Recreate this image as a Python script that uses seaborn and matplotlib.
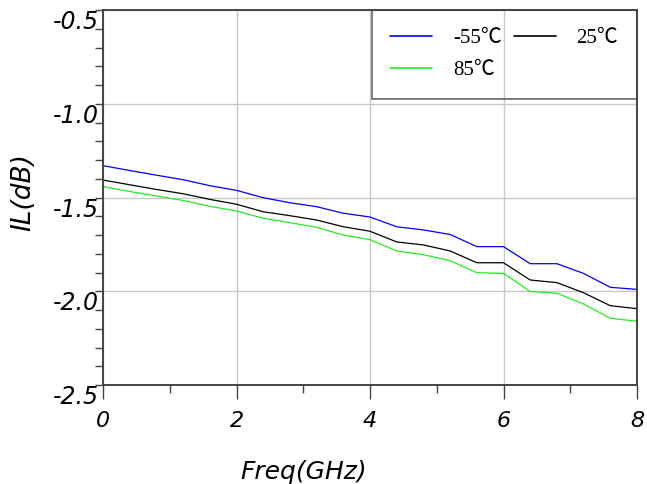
import numpy as np
import pandas as pd
import matplotlib
matplotlib.use('Agg')
import matplotlib.pyplot as plt
from matplotlib.ticker import MultipleLocator
import seaborn as sns

# frecuencia (GHz), paso 0.4
freq = [0.0, 0.4, 0.8, 1.2, 1.6, 2.0, 2.4, 2.8, 3.2, 3.6, 4.0,
        4.4, 4.8, 5.2, 5.6, 6.0, 6.4, 6.8, 7.2, 7.6, 8.0]

il_m55 = [-1.330, -1.356, -1.381, -1.405, -1.437, -1.462, -1.501, -1.528, -1.549, -1.584, -1.604,
          -1.656, -1.673, -1.697, -1.762, -1.762, -1.853, -1.853, -1.905, -1.979, -1.990]
il_25 = [-1.407, -1.432, -1.457, -1.480, -1.510, -1.536, -1.576, -1.597, -1.620, -1.656, -1.680,
         -1.737, -1.753, -1.785, -1.848, -1.848, -1.940, -1.954, -2.008, -2.077, -2.093]
il_85 = [-1.442, -1.468, -1.492, -1.516, -1.547, -1.572, -1.611, -1.634, -1.659, -1.700, -1.725,
         -1.785, -1.805, -1.837, -1.901, -1.905, -2.001, -2.011, -2.068, -2.144, -2.160]

labels = ['-55℃', '85℃', '25℃']
colors = ['#0000ff', '#22ee22', '#000000']

df = pd.concat([
    pd.DataFrame({'freq': freq, 'IL': il_m55, 'temp': '-55℃'}),
    pd.DataFrame({'freq': freq, 'IL': il_85, 'temp': '85℃'}),
    pd.DataFrame({'freq': freq, 'IL': il_25, 'temp': '25℃'}),
])

sns.set_style('white')
plt.rcParams['font.family'] = ['DejaVu Sans']
plt.rcParams['text.color'] = 'black'
plt.rcParams['axes.labelcolor'] = 'black'
plt.rcParams['xtick.color'] = 'black'
plt.rcParams['ytick.color'] = 'black'

fig = plt.figure(figsize=(6.47, 4.84), dpi=100)
ax = fig.add_axes([103 / 647, 99 / 484, 534 / 647, 375 / 484])

sns.lineplot(data=df, x='freq', y='IL', hue='temp', hue_order=labels,
             palette=dict(zip(labels, colors)), linewidth=0.9, ax=ax, legend=False)

ax.set_xlim(0, 8)
ax.set_ylim(-2.5, -0.5)
ax.xaxis.set_major_locator(MultipleLocator(2))
ax.xaxis.set_minor_locator(MultipleLocator(1))
ax.yaxis.set_major_locator(MultipleLocator(0.5))
ax.yaxis.set_minor_locator(MultipleLocator(0.1))
ax.grid(True, which='major', color='#c8c8c8', linewidth=1.0)

for s in ax.spines.values():
    s.set_color('#444444')
    s.set_linewidth(1.4)

ax.tick_params(axis='x', which='major', bottom=True, direction='out', length=10, width=1,
               color='#444444', pad=9, labelsize=16)
ax.tick_params(axis='x', which='minor', bottom=True, direction='out', length=6, width=1,
               color='#444444')
ax.tick_params(axis='y', which='both', left=True, direction='out', length=6, width=1,
               color='#444444', pad=-3, labelsize=17)
ax.set_yticklabels([f'{v:.1f}' for v in ax.get_yticks()])
for t in ax.get_yticklabels():
    t.set_va('top')
for t in ax.get_xticklabels() + ax.get_yticklabels():
    t.set_fontstyle('italic')

ax.set_xlabel('Freq(GHz)', fontsize=18, fontstyle='italic', va='top')
ax.xaxis.set_label_coords(0.375, -0.2)
ax.set_ylabel('IL(dB)', fontsize=19, fontstyle='italic', va='center')
ax.yaxis.set_label_coords(-0.15, 0.515)

handles = [plt.Line2D([], [], color=c, linewidth=1.2) for c in colors]
leg = ax.legend(handles, labels, ncol=2, loc='upper right', bbox_to_anchor=(1.0, 1.0),
                prop={'family': ['Liberation Serif', 'Noto Sans CJK SC'], 'size': 15},
                frameon=True, fancybox=False, borderaxespad=0, columnspacing=0.6,
                handlelength=2.0, labelspacing=0.6, borderpad=0.9, handletextpad=1.0)
leg.get_frame().set_facecolor('none')
leg.get_frame().set_edgecolor('#444444')
leg.get_frame().set_linewidth(1.2)

fig.savefig('out.png', dpi=100)
